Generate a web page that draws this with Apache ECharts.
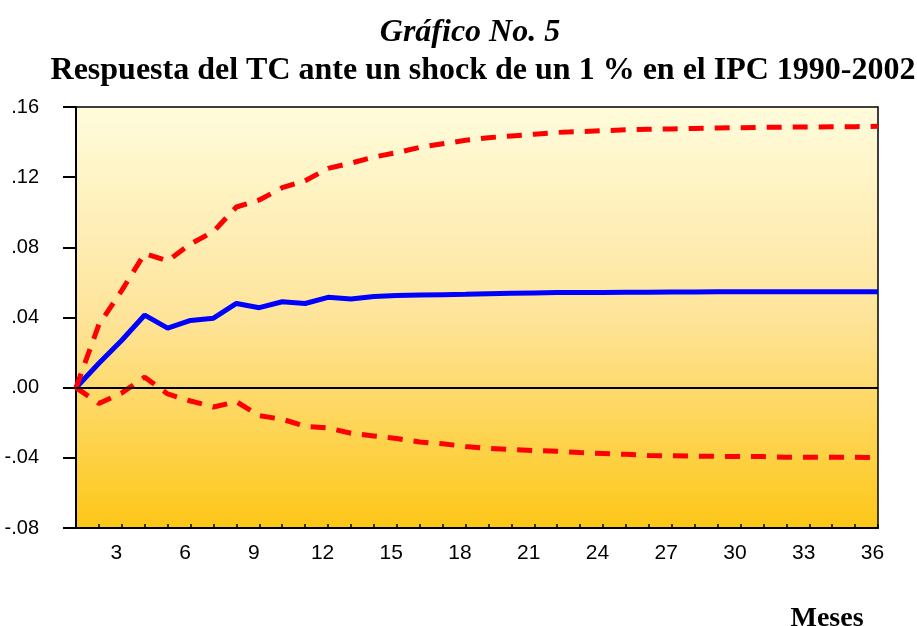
<!DOCTYPE html>
<html lang="es">
<head>
    <meta charset="UTF-8">
    <title>Gráfico No. 5</title>
    <script src="https://cdn.jsdelivr.net/npm/echarts@6/dist/echarts.min.js"></script>
    <style>
        html, body, #chart {
            width: 917px;
            height: 626px;
            padding: 0;
            margin: 0;
            background: #fff;
        }
    </style>
</head>
<body>
<div id="chart"></div>
<script>
    var meses = [];
    for (var i = 1; i <= 36; i++) meses.push(String(i));

    // respuesta del TC
    var respuesta = [0, 0.0139, 0.027, 0.0414, 0.0339, 0.0383, 0.0396, 0.048, 0.0456, 0.049,
        0.048, 0.0515, 0.0506, 0.052, 0.0525, 0.0528, 0.053, 0.0532, 0.0535, 0.0538,
        0.054, 0.0542, 0.0543, 0.0543, 0.0544, 0.0544, 0.0545, 0.0545, 0.0547, 0.0547,
        0.0547, 0.0547, 0.0547, 0.0547, 0.0547, 0.0547];
    var bandaSup = [0, 0.036, 0.0555, 0.0765, 0.0722, 0.082, 0.089, 0.103, 0.107, 0.114,
        0.118, 0.125, 0.128, 0.1315, 0.134, 0.137, 0.139, 0.141, 0.1425, 0.1435,
        0.1445, 0.1455, 0.146, 0.1465, 0.147, 0.1473, 0.1475, 0.1478, 0.148, 0.1482,
        0.1484, 0.1485, 0.1486, 0.1487, 0.1488, 0.149];
    var bandaInf = [0, -0.009, -0.003, 0.006, -0.0036, -0.0076, -0.011, -0.008, -0.016, -0.018,
        -0.022, -0.023, -0.026, -0.0275, -0.029, -0.031, -0.032, -0.0335, -0.0346, -0.0353,
        -0.0358, -0.0362, -0.037, -0.0375, -0.038, -0.0387, -0.0388, -0.039, -0.0392, -0.0392,
        -0.0393, -0.0396, -0.0397, -0.0397, -0.0397, -0.0398];

    var chart = echarts.init(document.getElementById("chart"));

    function fmt(v) {
        return v.toFixed(2).replace("0.", ".");
    }

    var dashed = {
        color: "#ff0000",
        width: 5,
        type: [15, 11],
        cap: "butt"
    };

    chart.setOption({
        animation: false,
        title: [{
            text: "Gráfico No. 5",
            left: 465,
            textAlign: "center",
            top: 12,
            textStyle: {
                fontFamily: "Liberation Serif",
                fontStyle: "italic",
                fontWeight: "bold",
                fontSize: 32,
                color: "#000"
            }
        }, {
            text: "Respuesta del TC ante un shock de un 1 % en el IPC 1990-2002",
            left: 478,
            textAlign: "center",
            top: 50,
            textStyle: {
                fontFamily: "Liberation Serif",
                fontWeight: "bold",
                fontSize: 32,
                color: "#000"
            }
        }, {
            text: "Meses",
            left: 822,
            textAlign: "center",
            top: 600,
            textStyle: {
                fontFamily: "Liberation Serif",
                fontWeight: "bold",
                fontSize: 28,
                color: "#000"
            }
        }],
        grid: {
            left: 76,
            right: 39,
            top: 107,
            bottom: 98,
            show: true,
            borderColor: "#000",
            borderWidth: 1.5,
            backgroundColor: new echarts.graphic.LinearGradient(0, 0, 0, 1, [
                {offset: 0, color: "#fffcdc"},
                {offset: 0.5, color: "#fee49a"},
                {offset: 1, color: "#fdc716"}
            ])
        },
        xAxis: {
            type: "category",
            data: meses,
            boundaryGap: false,
            axisLine: {onZero: false, lineStyle: {color: "#000", width: 2}},
            axisTick: {
                inside: true,
                length: 4,
                interval: 0,
                lineStyle: {color: "#000", width: 1.5}
            },
            axisLabel: {
                interval: function (idx) {
                    return (idx + 1) % 3 === 0;
                },
                margin: 15,
                padding: [0, 11, 0, 0],
                fontFamily: "Liberation Sans",
                fontSize: 21,
                color: "#000"
            },
            splitLine: {show: false}
        },
        yAxis: {
            type: "value",
            min: -0.08,
            max: 0.16,
            interval: 0.04,
            axisLine: {show: true, lineStyle: {color: "#000", width: 2}},
            axisTick: {show: true, length: 13, lineStyle: {color: "#000", width: 2}},
            axisLabel: {
                formatter: fmt,
                margin: 37,
                fontFamily: "Liberation Sans",
                fontSize: 20,
                color: "#000"
            },
            splitLine: {show: false}
        },
        series: [{
            type: "line",
            data: respuesta,
            symbol: "none",
            z: 3,
            lineStyle: {color: "#0000ff", width: 5},
            markLine: {
                silent: true,
                symbol: "none",
                label: {show: false},
                lineStyle: {color: "#000", width: 2, type: "solid"},
                data: [{yAxis: 0}]
            }
        }, {
            type: "line",
            data: bandaSup,
            symbol: "none",
            z: 4,
            lineStyle: dashed
        }, {
            type: "line",
            data: bandaInf,
            symbol: "none",
            z: 4,
            lineStyle: dashed
        }]
    });
</script>
</body>
</html>
